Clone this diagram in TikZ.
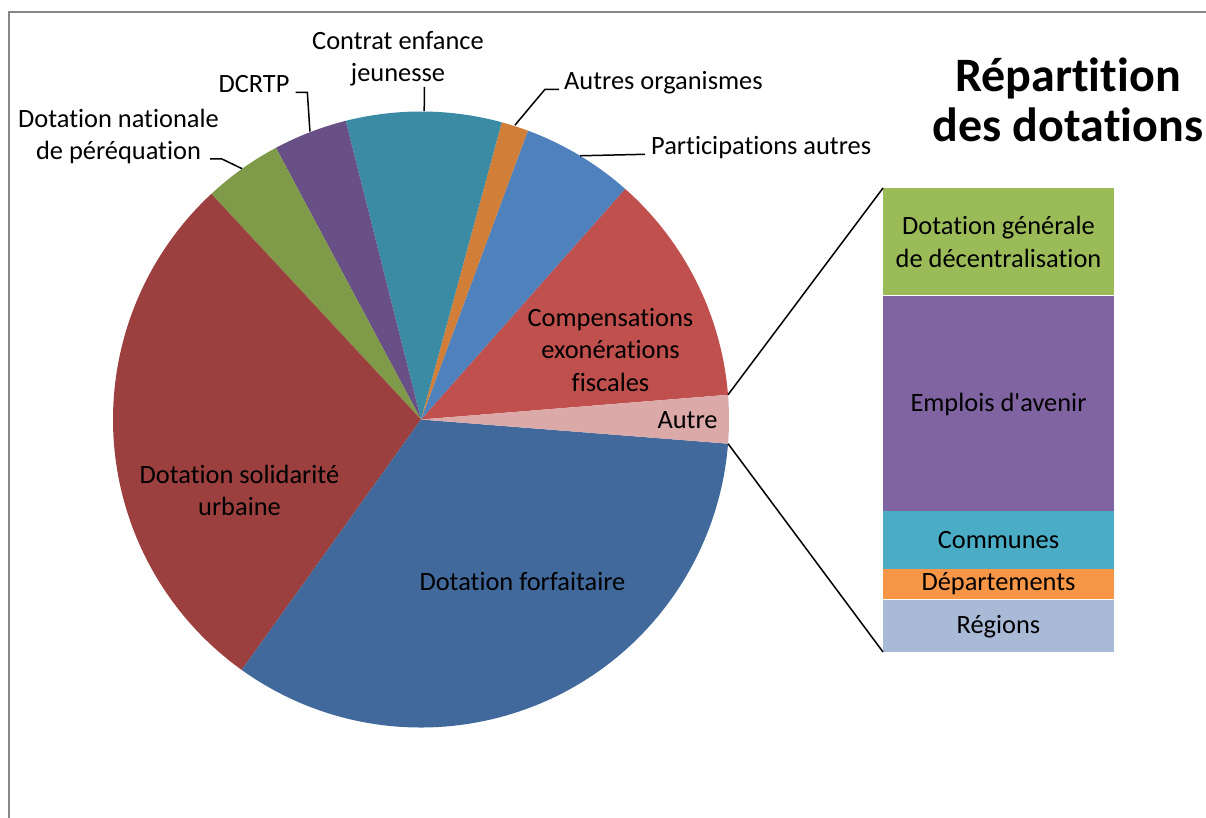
\documentclass[tikz,border=0pt]{standalone}
\usepackage{fontspec}
\newfontfamily\calib{Carlito}[Ligatures={NoCommon,NoRare,NoDiscretionary}]
\definecolor{cComp}{HTML}{C0504D}
\definecolor{cAutre}{HTML}{DBA9A8}
\definecolor{cForf}{HTML}{41699B}
\definecolor{cDsu}{HTML}{9B403E}
\definecolor{cDnp}{HTML}{7F9A48}
\definecolor{cDcrtp}{HTML}{684F86}
\definecolor{cCej}{HTML}{3C8BA4}
\definecolor{cAo}{HTML}{D07E38}
\definecolor{cPa}{HTML}{4F81BD}
\definecolor{bDgd}{HTML}{9BBB59}
\definecolor{bEmp}{HTML}{8064A2}
\definecolor{bCom}{HTML}{4BACC6}
\definecolor{bDep}{HTML}{F79646}
\definecolor{bReg}{HTML}{A9BAD7}
\definecolor{frameGray}{HTML}{878787}
\newcommand\mlab[1]{\begin{tabular}[t]{@{}c@{}}#1\end{tabular}}
\begin{document}
\begin{tikzpicture}[x=1pt,y=-1pt,
  lab/.style={font=\calib\fontsize{26.4}{32.5}\selectfont, inner sep=0pt, text=black},
  titlefont/.style={font=\calib\bfseries\fontsize{48}{50}\selectfont, inner sep=0pt, text=black},
  leader/.style={draw=black, line width=1.5pt},
  zoomline/.style={draw=black, line width=1.5pt},
  barseg/.style={draw=none, inner sep=0pt, minimum width=231pt, anchor=north west}]
\useasboundingbox (0,0) rectangle (1206,818);
\fill[white] (0,0) rectangle (1206,818);
\draw[frameGray, line width=2pt] (9,900) -- (9,12) -- (1300,12);

% pie
\coordinate (c) at (421,419.5);
\def\R{308}
\fill[cComp]  (c) -- ++(-4.6:\R)   arc[start angle=-4.6,   end angle=-48.5,  radius=\R] -- cycle;
\fill[cPa]    (c) -- ++(-48.5:\R)  arc[start angle=-48.5,  end angle=-69.7,  radius=\R] -- cycle;
\fill[cAo]    (c) -- ++(-69.7:\R)  arc[start angle=-69.7,  end angle=-74.8,  radius=\R] -- cycle;
\fill[cCej]   (c) -- ++(-74.8:\R)  arc[start angle=-74.8,  end angle=-104.15,radius=\R] -- cycle;
\fill[cDcrtp] (c) -- ++(-104.15:\R)arc[start angle=-104.15,end angle=-118.1, radius=\R] -- cycle;
\fill[cDnp]   (c) -- ++(-118.1:\R) arc[start angle=-118.1, end angle=-132.9, radius=\R] -- cycle;
\fill[cDsu]   (c) -- ++(-132.9:\R) arc[start angle=-132.9, end angle=-234.4, radius=\R] -- cycle;
\fill[cForf]  (c) -- ++(-234.4:\R) arc[start angle=-234.4, end angle=-355.5, radius=\R] -- cycle;
\fill[cAutre] (c) -- ++(4.5:\R)    arc[start angle=4.5,    end angle=-4.6,   radius=\R] -- cycle;

\path (c) ++(-4.6:\R) coordinate (autreTop);
\path (c) ++(4.5:\R) coordinate (autreBot);

% bar
\node[barseg, fill=bDgd, minimum height=107pt] (b1) at (883,188) {};
\node[barseg, fill=bEmp, minimum height=215pt] (b2) at (b1.south west) {};
\node[barseg, fill=bCom, minimum height=58pt]  (b3) at (b2.south west) {};
\node[barseg, fill=bDep, minimum height=30pt]  (b4) at (b3.south west) {};
\node[barseg, fill=bReg, minimum height=52pt]  (b5) at (b4.south west) {};

\draw[zoomline] (autreTop) -- (b1.north west);
\draw[zoomline] (autreBot) -- (b5.south west);

% labels inside
\node[lab, anchor=base] (lcomp) at (610.5,326) {\mlab{Compensations\\exonérations\\fiscales}};
\node[lab, anchor=base] (lautre) at (687.5,428.3) {Autre};
\node[lab, anchor=base] (lforf) at (522.5,590) {Dotation forfaitaire};
\node[lab, anchor=base] (ldsu) at (239.5,483) {\mlab{Dotation solidarité\\urbaine}};

% outer labels
\node[lab, anchor=base] (lcej) at (398,49.3) {\mlab{Contrat enfance\\jeunesse}};
\node[lab, anchor=base] (ldcrtp) at (254,92.3) {DCRTP};
\node[lab, anchor=base] (ldnp) at (118.5,127.3) {\mlab{Dotation nationale\\de péréquation}};
\node[lab, anchor=base west] (lao) at (564,89.3) {Autres organismes};
\node[lab, anchor=base west] (lpa) at (651,154.3) {Participations autres};

% leader lines
\path (c) ++(-89.4:308.5) coordinate (cejEnd);
\path (c) ++(-111.1:308.5) coordinate (dcrtpEnd);
\path (c) ++(-125.5:308) coordinate (dnpEnd);
\path (c) ++(-72.3:309) coordinate (aoEnd);
\path (c) ++(-58.9:308) coordinate (paEnd);
\coordinate (dnpStart) at (210,159);
\coordinate (cejStart) at (424.3,87);

\draw[leader] (cejStart) -- (cejEnd);
\draw[leader] (ldcrtp.base east) ++(6,0) -- ++(11.7,0) -- (dcrtpEnd);
\draw[leader] (dnpStart) -- ++(12,0) -- (dnpEnd);
\draw[leader] (lao.base west) ++(-5,0) -- ++(-14,0) -- (aoEnd);
\draw[leader] (lpa.base west) ++(-6,0) -- (paEnd);

% bar labels
\node[lab, anchor=base] (ldgd) at (998.5,235) {\mlab{Dotation générale\\de décentralisation}};
\node[lab, anchor=base] (lemp) at (998.5,411.7) {Emplois d'avenir};
\node[lab, anchor=base] (lcom) at (998.5,548.3) {Communes};
\node[lab, anchor=base] (ldep) at (998.5,590.7) {Départements};
\node[lab, anchor=base] (lreg) at (998.5,633.3) {Régions};

% title
\node[titlefont, anchor=base] (title) at (1068,91.7) {\mlab{Répartition\\des dotations}};
\end{tikzpicture}
\end{document}
